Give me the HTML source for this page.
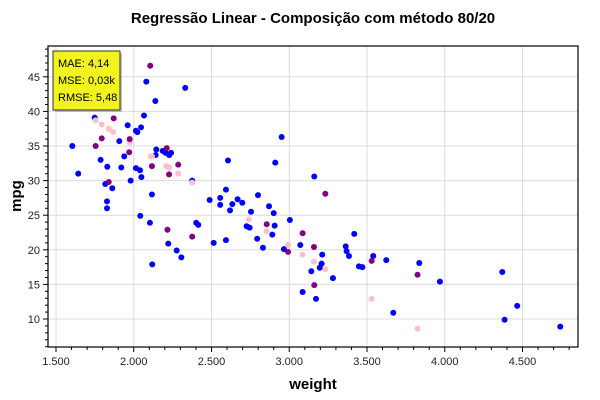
<!DOCTYPE html>
<html><head><meta charset="utf-8"><style>
body{margin:0;background:#fff;}
svg{display:block;font-family:"Liberation Sans","DejaVu Sans",sans-serif;}
</style></head><body>
<svg id="chart" width="600" height="400">
<text x="313" y="23" text-anchor="middle" font-size="15" font-weight="bold">Regressão Linear - Composição com método 80/20</text>
<text x="313" y="389" text-anchor="middle" font-size="15" font-weight="bold">weight</text>
<text transform="translate(21,196) rotate(-90)" text-anchor="middle" font-size="15" font-weight="bold">mpg</text>
<g id="grid"></g><g id="axes"></g><g id="marks"></g>
<g>
<rect x="55" y="53" width="67" height="59" fill="#888" opacity="0.5"/>
<rect x="53" y="51" width="67" height="59" fill="#f2f21e" stroke="#333" stroke-width="1"/>
<text x="58" y="67" font-size="11">MAE: 4,14</text>
<text x="58" y="84" font-size="11">MSE: 0,03k</text>
<text x="58" y="101" font-size="11">RMSE: 5,48</text>
</g>
</svg>
<script>
const xTicks=[1500,2000,2500,3000,3500,4000,4500];
const xTickLabels=["1.500","2.000","2.500","3.000","3.500","4.000","4.500"];
const yTicks=[10,15,20,25,30,35,40,45];
const trainW=[2081,2331,2139,2066,1749,1961,2047,2014,2023,1907,1605,2145,2186,2205,2228,2240,2141,1939,1787,1830,1920,2014,2040,2049,1643,1980,1817,1862,2117,1828,1828,2042,2104,2402,2415,2488,2556,2556,2514,2593,2222,2276,2306,2119,2606,2376,2951,2910,3161,2593,2634,2668,2698,2619,2799,2870,2900,2754,2726,2745,2906,2891,3004,2794,2831,2966,3071,3212,3208,3196,3142,3281,3086,3172,3418,3363,3369,3384,3448,3470,3540,3624,3836,3969,3669,4370,4466,4385,4743];
const trainMpg=[44.3,43.4,41.5,39.4,39.1,38.0,37.7,37.2,37.0,35.7,35.0,34.5,34.3,34.0,33.7,34.0,33.7,33.5,33.0,32.0,31.9,31.8,31.5,30.5,31.0,30.0,29.5,28.9,28.0,27.0,26.0,24.9,23.9,23.9,23.6,27.2,27.5,26.5,21.0,21.4,20.9,19.9,18.9,17.9,32.9,30.0,36.3,32.6,30.6,28.7,26.6,27.3,26.8,25.7,27.9,26.3,25.3,25.5,23.4,23.2,23.5,22.2,24.3,21.6,20.3,20.1,20.7,19.3,18.0,17.4,16.9,15.9,13.9,12.9,22.3,20.5,19.8,19.1,17.6,17.5,19.1,18.5,18.1,15.4,10.9,16.8,11.9,9.9,8.9];
const testW=[2106,1871,1794,1974,1755,1971,2212,2286,2117,2227,1839,2217,2376,3232,2855,3086,3159,2992,3161,3530,3825];
const testMpg=[46.6,39.0,36.1,36.0,35.0,34.1,34.7,32.3,32.1,30.9,29.8,22.9,21.9,28.1,23.7,22.4,20.4,19.7,14.9,18.4,16.4];
const predW=[1755,1794,1839,1868,1974,2109,2117,2209,2227,2286,2376,2741,2855,2992,3086,3159,3232,3530,3825];
const predMpg=[38.7,38.1,37.5,37.0,35.5,33.5,33.5,32.1,31.9,31.0,29.7,24.4,22.7,20.7,19.3,18.3,17.2,12.9,8.6];
const L=48,R=578,T=46,B=347;
const X=w=>56+(w-1500)*0.1555;
const Y=m=>319-(m-10)*6.92;
const NS="http://www.w3.org/2000/svg";
function mk(tag,attrs,parent){const e=document.createElementNS(NS,tag);for(const k in attrs)e.setAttribute(k,attrs[k]);parent.appendChild(e);return e;}
const grid=document.getElementById('grid'),axes=document.getElementById('axes'),marks=document.getElementById('marks');
xTicks.forEach((t,i)=>{const x=X(t);
 let g=mk('line',{x1:x,x2:x,y1:T,y2:B,stroke:'#dcdcdc'},grid);
 
 
 mk('line',{x1:x,x2:x,y1:B,y2:B+5,stroke:'#000'},axes);
 for(let k=1;k<5;k++){const mx=X(t+k*100);if(mx<R)mk('line',{x1:mx,x2:mx,y1:B,y2:B+3,stroke:'#000'},axes);}
 let tx=mk('text',{x:x,y:B+18,'text-anchor':'middle','font-size':'11',fill:'#222'},axes);
 tx.textContent=xTickLabels[i];
 
 
});
yTicks.forEach(t=>{const y=Y(t);
 let g=mk('line',{x1:L,x2:R,y1:y,y2:y,stroke:'#dcdcdc'},grid);
 
 
 mk('line',{x1:L-5,x2:L,y1:y,y2:y,stroke:'#000'},axes);
 let tx=mk('text',{x:L-8,y:y+4,'text-anchor':'end','font-size':'11',fill:'#222'},axes);
 tx.textContent=t;
 
 
});
for(let v=6;v<50;v++){if(v%5)mk('line',{x1:L-3,x2:L,y1:Y(v),y2:Y(v),stroke:'#000'},axes);}
mk('rect',{x:L,y:T,width:R-L,height:B-T,fill:'none',stroke:'#000','stroke-width':1.2},axes);
function series(ws,ms,col,name){ws.forEach((w,i)=>{
 const c=mk('circle',{cx:X(w),cy:Y(ms[i]),r:3,fill:col},marks);
 
 
});}
series(trainW,trainMpg,'#0000ff','train-point');
series(predW,predMpg,'#ffc0cb','predicted-point');
series(testW,testMpg,'#800080','test-point');
</script>
</body></html>
